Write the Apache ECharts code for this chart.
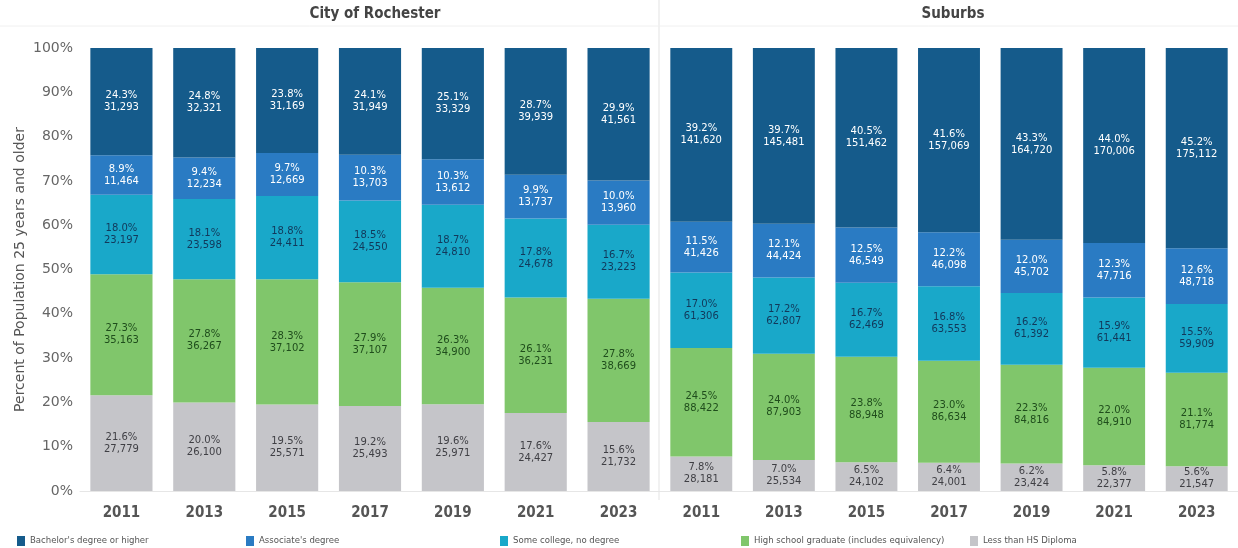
<!DOCTYPE html>
<html><head><meta charset="utf-8">
<script src="https://cdn.jsdelivr.net/npm/echarts@6/dist/echarts.min.js"></script>
<style>html,body{margin:0;padding:0;background:#fff}#c{width:1238px;height:548px}</style>
</head><body><div id="c"></div>
<script>
const years = ['2011','2013','2015','2017','2019','2021','2023'];
const seriesNames = ["Bachelor's degree or higher","Associate's degree","Some college, no degree","High school graduate (includes equivalency)","Less than HS Diploma"];
const yTicks = ['0%','10%','20%','30%','40%','50%','60%','70%','80%','90%','100%'];

// City of Rochester: percentages and counts
const cityBachPct = [24.3,24.8,23.8,24.1,25.1,28.7,29.9];
const cityBachN   = [31293,32321,31169,31949,33329,39939,41561];
const cityAssocPct = [8.9,9.4,9.7,10.3,10.3,9.9,10.0];
const cityAssocN   = [11464,12234,12669,13703,13612,13737,13960];
const citySomePct = [18.0,18.1,18.8,18.5,18.7,17.8,16.7];
const citySomeN   = [23197,23598,24411,24550,24810,24678,23223];
const cityHsPct = [27.3,27.8,28.3,27.9,26.3,26.1,27.8];
const cityHsN   = [35163,36267,37102,37107,34900,36231,38669];
const cityLessPct = [21.6,20.0,19.5,19.2,19.6,17.6,15.6];
const cityLessN   = [27779,26100,25571,25493,25971,24427,21732];

// Suburbs
const subBachPct = [39.2,39.7,40.5,41.6,43.3,44.0,45.2];
const subBachN   = [141620,145481,151462,157069,164720,170006,175112];
const subAssocPct = [11.5,12.1,12.5,12.2,12.0,12.3,12.6];
const subAssocN   = [41426,44424,46549,46098,45702,47716,48718];
const subSomePct = [17.0,17.2,16.7,16.8,16.2,15.9,15.5];
const subSomeN   = [61306,62807,62469,63553,61392,61441,59909];
const subHsPct = [24.5,24.0,23.8,23.0,22.3,22.0,21.1];
const subHsN   = [88422,87903,88948,86634,84816,84910,81774];
const subLessPct = [7.8,7.0,6.5,6.4,6.2,5.8,5.6];
const subLessN   = [28181,25534,24102,24001,23424,22377,21547];

const colors = ['#155b8b','#2a7bc3','#19a8c9','#80c66b','#c5c5c9'];
const textColors = ['#ffffff','#ffffff','#12385a','#1f4d1c','#3f3f44'];

const fmtN = n => n.toLocaleString('en-US');

function makeSeries(gridIdx, pcts, counts){
  // stack bottom to top: Less, HS, Some, Assoc, Bach
  const order = [4,3,2,1,0];
  return order.map(k => ({
    name: seriesNames[k],
    type: 'bar',
    stack: 'g'+gridIdx,
    xAxisIndex: gridIdx,
    yAxisIndex: gridIdx,
    barCategoryGap: '25%',
    itemStyle: {color: colors[k]},
    emphasis: {disabled: true},
    data: pcts[k],
    label: {
      show: true,
      position: 'inside',
      fontFamily: 'DejaVu Sans',
      fontSize: 10,
      lineHeight: 12,
      color: textColors[k],
      formatter: p => pcts[k][p.dataIndex].toFixed(1) + '%\n' + fmtN(counts[k][p.dataIndex])
    }
  }));
}

const cityP = [cityBachPct, cityAssocPct, citySomePct, cityHsPct, cityLessPct];
const cityN = [cityBachN, cityAssocN, citySomeN, cityHsN, cityLessN];
const subP = [subBachPct, subAssocPct, subSomePct, subHsPct, subLessPct];
const subN = [subBachN, subAssocN, subSomeN, subHsN, subLessN];

const legendLefts = [12, 241, 495, 736, 965];
const legends = seriesNames.map((nm,i)=>({
  data:[nm], left: legendLefts[i], top: 531, itemWidth: 8, itemHeight: 10, icon: 'rect',
  selectedMode: false,
  textStyle: {fontFamily: 'DejaVu Sans Condensed', fontSize: 9.5, color: '#555'}
}));

const xAxisCommon = {
  type: 'category', data: years,
  axisTick: {show:false},
  axisLine: {show:true, lineStyle:{color:'#e6e6e6'}},
  axisLabel: {fontFamily:'DejaVu Sans Condensed', fontWeight:'bold', fontSize:15, color:'#555', margin:15}
};

const option = {
  animation: false,
  backgroundColor: '#fff',
  title: [
    {text:'City of Rochester', left: 370, top: 2, textAlign:'center',
     textStyle:{fontFamily:'DejaVu Sans Condensed', fontWeight:'bold', fontSize:15, color:'#444'}},
    {text:'Suburbs', left: 948, top: 2, textAlign:'center',
     textStyle:{fontFamily:'DejaVu Sans Condensed', fontWeight:'bold', fontSize:15, color:'#444'}}
  ],
  legend: legends,
  grid: [
    {left: 80, top: 48, width: 580, height: 443},
    {left: 660, top: 48, width: 578, height: 443}
  ],
  xAxis: [
    Object.assign({gridIndex:0}, xAxisCommon),
    Object.assign({gridIndex:1}, xAxisCommon)
  ],
  yAxis: [
    {type:'value', gridIndex:0, min:0, max:100, interval:10,
     name:'Percent of Population 25 years and older', nameLocation:'middle', nameGap:53,
     nameTextStyle:{fontFamily:'DejaVu Sans', fontSize:14, color:'#555'},
     splitLine:{show:false}, axisLine:{show:false}, axisTick:{show:false},
     axisLabel:{fontFamily:'DejaVu Sans', fontSize:14, color:'#666', margin:7,
       formatter: v => yTicks[Math.round(v/10)]}},
    {type:'value', gridIndex:1, min:0, max:100, interval:10, show:false,
     splitLine:{show:false}}
  ],
  graphic: [
    {type:'line', shape:{x1:659, y1:0, x2:659, y2:500}, style:{stroke:'#e3e3e3', lineWidth:1}},
    {type:'line', shape:{x1:0, y1:26, x2:1238, y2:26}, style:{stroke:'#f0f0f0', lineWidth:1}}
  ],
  series: [].concat(makeSeries(0, cityP, cityN), makeSeries(1, subP, subN))
};

const chart = echarts.init(document.getElementById('c'), null, {renderer:'canvas'});
chart.setOption(option);
</script>
</body></html>
